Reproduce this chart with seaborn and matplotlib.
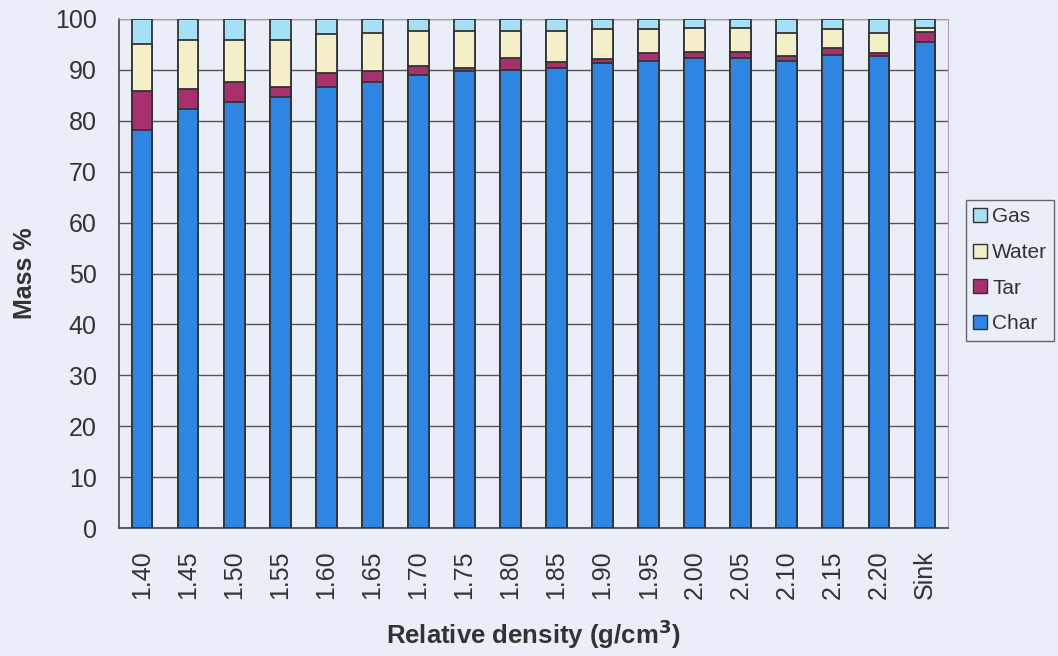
import numpy as np
import pandas as pd
import matplotlib
matplotlib.use("Agg")
import matplotlib.pyplot as plt
from matplotlib.patches import Patch
import seaborn as sns

categories = ["1.40", "1.45", "1.50", "1.55", "1.60", "1.65", "1.70", "1.75", "1.80",
              "1.85", "1.90", "1.95", "2.00", "2.05", "2.10", "2.15", "2.20", "Sink"]
char = [78.1, 82.4, 83.7, 84.7, 86.6, 87.7, 89.0, 89.7, 90.0, 90.3, 91.3, 91.7, 92.3, 92.3, 91.8, 93.0, 92.8, 95.4]
tar = [7.7, 3.8, 4.0, 2.0, 2.7, 2.0, 1.7, 0.6, 2.3, 1.2, 0.8, 1.7, 1.3, 1.3, 1.0, 1.3, 0.6, 2.0]
water = [9.3, 9.7, 8.2, 9.2, 7.8, 7.6, 7.0, 7.4, 5.4, 6.2, 6.0, 4.7, 4.7, 4.7, 4.5, 3.8, 3.8, 0.9]
gas = [4.9, 4.1, 4.1, 4.1, 2.9, 2.7, 2.3, 2.3, 2.3, 2.3, 1.9, 1.9, 1.7, 1.7, 2.7, 1.9, 2.8, 1.7]
series_names = ["Char", "Tar", "Water", "Gas"]
colors = {"Char": "#2f86e2", "Tar": "#a8306e", "Water": "#f4efc8", "Gas": "#a6e0f6"}

bg = "#e9eef8"
sns.set_style("white")
plt.rcParams['font.family'] = ['Liberation Sans', 'DejaVu Sans']

df = pd.DataFrame({"cat": categories, "Char": char, "Tar": tar, "Water": water, "Gas": gas})
cum = df[series_names].cumsum(axis=1)

fig = plt.figure(figsize=(10.58, 6.56), dpi=100, facecolor=bg)
ax = fig.add_axes([119 / 1058, 1 - 528 / 656, (948 - 119) / 1058, (528 - 19) / 656])
ax.set_facecolor(bg)

for name in reversed(series_names):
    sns.barplot(x=df["cat"], y=cum[name], order=categories, color=colors[name],
                edgecolor="#333333", linewidth=1.3, width=0.45, saturation=1,
                ax=ax, zorder=3)

ax.set_ylim(0, 100)
ax.set_xlim(-0.5, len(categories) - 0.5)
ax.set_yticks(np.arange(0, 101, 10))
ax.yaxis.grid(True, color="#555555", linewidth=1.0, zorder=0)
ax.set_axisbelow(True)

ax.tick_params(axis="y", labelsize=18, length=6, width=1, color="#444444", direction="out", pad=10)
ax.tick_params(axis="x", which="major", labelsize=18, length=0, pad=16, labelrotation=90)
ax.set_xticks(np.arange(len(categories)) + 0.5, minor=True)
ax.tick_params(axis="x", which="minor", length=7, width=1, color="#444444", direction="out")
ax.set_xticklabels(categories)
for t in ax.get_xticklabels() + ax.get_yticklabels():
    t.set_color("#333333")

for s in ["left", "bottom"]:
    ax.spines[s].set_color("#444444")
    ax.spines[s].set_linewidth(1.2)
for s in ["top", "right"]:
    ax.spines[s].set_color("#b89ab8")
    ax.spines[s].set_linewidth(0.8)

ax.set_xlabel("Relative density (g/cm$^{\\mathbf{3}}$)", fontsize=18.5, fontweight="bold",
              labelpad=13, color="#333333")
ax.set_ylabel("Mass %", fontsize=18, fontweight="bold", labelpad=13, color="#333333")

handles = [Patch(facecolor=colors[n], edgecolor="#333333", linewidth=1.0, label=n)
           for n in reversed(series_names)]
leg = fig.legend(handles=handles, loc="upper left",
                 bbox_to_anchor=(966 / 1058, 1 - 200 / 656), bbox_transform=fig.transFigure,
                 fontsize=15, frameon=True, fancybox=False, edgecolor="#444444",
                 facecolor=bg, handlelength=0.65, handleheight=0.65, handletextpad=0.25,
                 labelspacing=0.8, borderpad=0.35, borderaxespad=0)
leg.get_frame().set_linewidth(1.0)
for t in leg.get_texts():
    t.set_color("#333333")

fig.savefig("out.png", dpi=100, facecolor=bg)
